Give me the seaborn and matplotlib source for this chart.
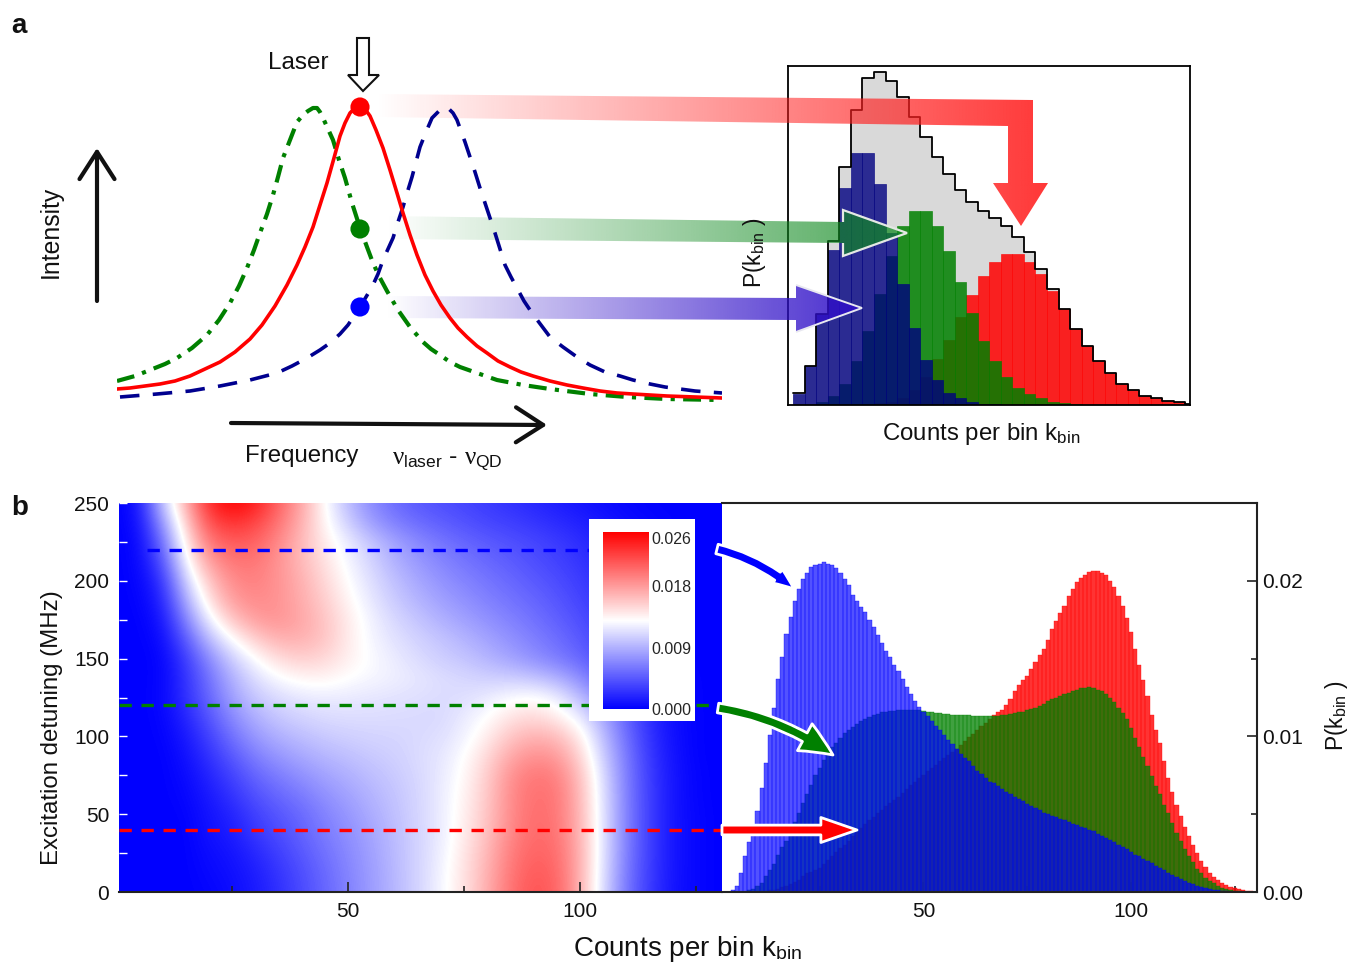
import numpy as np
import seaborn as sns
import matplotlib.pyplot as plt
from matplotlib.colors import LinearSegmentedColormap, to_rgb
from matplotlib.patches import FancyArrowPatch, Polygon

W, H = 1353, 964

# spectra in panel a: frequency offset from the laser, intensity
red_freq = [-243,-230,-215,-200,-185,-170,-155,-140,-125,-110,-98,-85,-73,-63,-55,-47,-40,-33,-26,-20,-15,-10,-5,0,5,10,16,23,30,37,43,50,57,65,73,81,90,98,107,117,127,138,150,161,173,190,207,223,240,257,273,290,307,335,362]
red_int = [11,12,14,16,19,24,31,38,48,61,75,94,115,135,153,173,195,217,242,264,277,287,292,293,291,284,270,252,230,207,187,165,145,125,109,95,82,72,63,54,47,39,33,28,24,19,15,12,9,7,6,5,4,3,2]
green_freq = [-243,-225,-210,-195,-183,-168,-153,-141,-130,-121,-113,-106,-100,-93,-87,-82,-77,-70,-63,-57,-52,-47,-43,-40,-37,-32,-27,-21,-15,-8,0,7,13,20,27,38,50,63,71,80,90,100,117,137,163,190,230,267,307,360]
green_int = [19,24,30,36,42,52,65,80,97,114,132,150,167,186,205,223,242,260,278,285,289,292,292,288,282,271,260,240,222,197,172,153,137,122,109,90,73,58,51,45,38,33,27,20,15,11,6,3,1,0]
blue_freq = [-240,-203,-170,-140,-110,-83,-68,-53,-40,-30,-20,-12,-6,0,6,12,18,23,28,33,38,43,48,52,56,60,66,72,80,87,93,97,101,105,110,115,120,125,130,135,140,145,151,157,164,172,181,190,203,217,230,245,260,273,290,305,335,362]
blue_int = [3,6,9,14,20,27,34,42,50,57,66,75,84,93,103,113,126,140,151,162,178,193,210,223,238,253,268,282,290,293,287,280,269,258,243,228,212,197,182,167,151,135,123,112,99,87,75,63,53,43,35,28,24,20,16,13,9,7]

# histogram in the panel a inset, heights in arbitrary counts
inset_total = [35,118,275,495,720,892,988,1008,980,930,870,810,750,697,650,615,588,565,540,507,464,410,350,290,230,178,132,97,65,45,28,20,13,8,3]
inset_blue = [32,118,275,470,655,762,762,668,520,365,232,135,75,37,20,10,4,2,1,0,0,0,0,0,0,0,0,0,0,0,0,0,0,0,0]
inset_green = [0,0,10,28,65,132,225,335,450,540,587,587,540,465,372,278,195,133,85,52,32,20,10,5,2,0,0,0,0,0,0,0,0,0,0]
inset_red = [0,0,0,0,0,0,2,5,10,20,45,85,140,198,265,332,390,433,457,457,433,395,345,290,230,178,132,97,65,45,28,20,13,8,3]

# panel b map, P(k_bin) x 1000, rows from 0 to 250 MHz, columns every 5 counts
map_rows = [
    [0,0,0,0,.2,.6,1.3,2.4,3.8,5.2,6.6,8,9.3,10.8,12.5,14.5,17.2,20.3,21.8,21,17,11,5.8,2.8,.9,.3,0],
    [0,0,0,0,.4,.8,1.5,2.7,4,5.4,6.8,8,9.4,10.8,12.4,14.5,17,20,21.5,20.8,17,11.2,6,2.9,1,.3,0],
    [0,0,0,0,.6,1,2,3.2,4.5,5.8,7,8.2,9.5,10.8,12.2,14.3,16.7,19.7,21,20.5,17,11.4,6.2,3,1,.3,0],
    [0,0,0,0,.9,1.4,2.8,3.9,5,6.3,7.3,8.4,9.6,10.8,12,14,16.3,19.2,20.7,20.2,16.8,11.4,6.3,3,1,.3,0],
    [0,0,0,.1,1,1.8,3.3,4.4,5.4,6.7,7.7,8.8,9.8,10.9,12,13.8,16,19,20.5,20,16.7,11.4,6.4,3,1,.3,0],
    [0,0,0,.3,1.3,2.6,4.2,5.3,6.3,7.4,8.3,9.2,10,10.9,12,13.6,15.8,19,20.3,20,16.5,11.3,6.3,3,1,.2,0],
    [0,0,0,.5,1.8,3.4,5.2,6.4,7.4,8.3,9,9.7,10.3,11,11.9,13.3,15.6,18.7,20,19.5,16.2,11,6.2,2.9,1,.2,0],
    [0,0,0,.8,2.5,4.5,6.5,7.7,8.6,9.3,9.8,10.3,10.6,11.2,11.7,13,15,17.5,18.7,18.2,15.2,10.3,6,2.7,.9,.1,0],
    [0,0,.1,1.2,3.3,5.8,7.8,9,9.7,10.3,10.6,10.8,10.9,11.1,11.4,12.3,14,16,17,16.5,14,9.5,5.5,2.4,.8,.1,0],
    [0,0,.2,1.8,4.3,7,9,10.2,10.8,11.2,11.3,11.3,11.2,11.1,11,12,13,14.5,15,14,12,8.5,5,2.2,.7,.1,0],
    [0,0,.3,2.4,5.2,8.2,10.2,11.2,11.8,12,11.9,11.7,11.6,11.4,11.2,11.3,12,12.8,13.2,12.2,9.5,7,4.4,2,.6,.1,0],
    [0,0,.2,2.5,5.8,9,11.3,12.8,13.5,13.6,13,12.6,12.2,11.8,11.3,11,10.6,10.5,10,9,7.2,5,3.2,1.6,.5,.1,0],
    [0,0,.2,3,7,10.5,13,14.8,15.5,15,13.8,12.8,12,11.2,10.5,10,9.2,8.3,7.3,6.3,5.2,3.9,2.5,1.3,.4,0,0],
    [0,0,.5,4.5,9.5,13,15.5,17,17,16,14,12.5,11.5,10.7,10,9.2,8.3,7.4,6.5,5.6,4.5,3.4,2.2,1.1,.4,0,0],
    [0,0,1,6.5,12.2,16,18,18.5,17.5,16,14,12.3,11,10,9,8.2,7.4,6.6,5.8,4.9,4,3,2,1,.35,0,0],
    [0,.1,1.7,8.5,14.5,18,19,18.5,17.2,15.5,13.5,11.8,10.3,9.2,8.2,7.4,6.6,5.9,5.2,4.4,3.5,2.6,1.7,.9,.3,0,0],
    [0,.2,2.5,10.5,16,19,19.5,18.5,17,15,13,11.3,9.8,8.5,7.5,6.7,6,5.3,4.6,3.9,3.1,2.3,1.4,.7,.25,0,0],
    [0,.3,4,12.5,18,20,20,18.5,16.5,14.5,12.5,10.8,9,7.8,6.8,6,5.3,4.7,4,3.4,2.7,1.9,1.2,.6,.2,0,0],
    [0,.4,5.5,14,20,21.5,21,19,16.5,14,12,10,8.3,7,6,5.2,4.6,4.1,3.6,3,2.3,1.6,1,.5,.15,0,0],
    [0,.7,7.5,15.5,22,23.5,22.5,20,17,13.4,10.5,8,6.5,5.5,4.8,4.2,3.6,3.2,2.7,2.2,1.7,1.1,.6,.3,.1,0,0],
    [0,1,10,17,24,26,24.5,21,17.5,13,9.5,7,5.5,4.5,4,3.5,3,2.5,2,1.5,1,.6,.3,.1,0,0,0],
]

# panel b histograms, P(k_bin) x 1000 for counts 2 to 130
hist_counts = np.arange(2, 131)
hist_blue = [0,0,.1,.4,1.2,2.3,3.2,4.1,5.2,6.7,8.3,10.1,11.8,13.7,15.1,16.6,17.7,18.7,19.5,20.1,20.5,20.9,21,21.1,21.2,21.1,21,20.8,20.5,20.1,19.7,19.1,18.7,18.3,18,17.5,17,16.5,16,15.5,15.1,14.6,14.2,13.7,13.2,12.7,12.3,11.9,11.6,11.3,11,10.7,10.4,10.1,9.8,9.5,9.2,8.9,8.6,8.4,8.1,7.8,7.6,7.35,7.1,7,6.8,6.6,6.4,6.3,6.1,6,5.85,5.65,5.5,5.4,5.25,5.1,5,4.9,4.8,4.7,4.6,4.5,4.4,4.3,4.2,4.1,4,3.9,3.75,3.6,3.5,3.35,3.2,3,2.9,2.75,2.6,2.4,2.3,2.15,2,1.85,1.7,1.55,1.4,1.25,1.1,.95,.82,.7,.6,.5,.4,.33,.26,.2,.15,.11,.08,.05,.03,.02,.01,0,0,0,0]
hist_green = [0,0,0,0,0,0,.1,.2,.4,.6,1,1.4,1.8,2.4,2.9,3.3,3.9,4.5,5.1,5.7,6.3,6.9,7.5,8,8.5,8.9,9.3,9.6,9.9,10.2,10.4,10.6,10.8,11,11.1,11.25,11.35,11.45,11.55,11.6,11.65,11.65,11.7,11.7,11.7,11.7,11.7,11.7,11.65,11.6,11.55,11.5,11.5,11.45,11.45,11.4,11.4,11.4,11.35,11.35,11.3,11.3,11.3,11.3,11.3,11.28,11.3,11.35,11.38,11.45,11.5,11.55,11.6,11.68,11.75,11.85,11.95,12.1,12.25,12.4,12.5,12.6,12.7,12.8,12.9,13,13.1,13.13,13.15,13.1,13,12.9,12.7,12.5,12.2,11.85,11.5,11.1,10.55,9.9,9.3,8.65,8.1,7.45,6.8,6.3,5.6,5.1,4.45,3.8,3.3,2.75,2.3,1.9,1.5,1.2,.9,.7,.55,.4,.28,.2,.13,.08,.05,.03,.02,.01,0]
hist_red = [0,0,0,0,0,0,0,0,0,.05,.05,.1,.1,.2,.3,.4,.5,.65,.8,1,1.2,1.3,1.4,1.55,1.8,2.05,2.3,2.55,2.8,3.05,3.3,3.6,3.85,4.1,4.35,4.6,4.8,5.05,5.3,5.5,5.7,5.9,6.1,6.35,6.6,6.85,7.05,7.3,7.5,7.75,7.95,8.15,8.4,8.6,8.8,9,9.2,9.45,9.7,9.95,10.15,10.4,10.65,10.85,11.1,11.35,11.6,11.7,12,12.4,12.9,13.3,13.6,13.9,14.3,14.8,15.2,15.6,16.2,16.9,17.4,17.9,18.4,19,19.5,19.9,20.2,20.4,20.55,20.6,20.6,20.5,20.35,20,19.6,19,18.4,17.6,16.7,15.6,14.6,13.6,12.6,11.4,10.4,9.6,8.4,7.3,6.4,5.6,4.9,4.2,3.6,3,2.5,2,1.6,1.25,.95,.75,.6,.45,.35,.25,.18,.12,.08,.05,.02]

# detuning of the three cuts through the map
cut_detuning = [220, 120, 40]
cut_colors = ['#0000ff', '#008000', '#ff0000']
colorbar_ticks = [0.000, 0.009, 0.018, 0.026]

sns.set_theme(style='white')
plt.rcParams['font.family'] = ['Liberation Sans', 'DejaVu Sans']
plt.rcParams['mathtext.fontset'] = 'custom'
plt.rcParams['mathtext.rm'] = 'Liberation Sans'
plt.rcParams['mathtext.it'] = 'Liberation Serif'

fig = plt.figure(figsize=(W / 100, H / 100), dpi=100)


def px_axes(x0, y0, x1, y1, **kwargs):
    # axes from a box given in image pixels, y going down
    return fig.add_axes([x0 / W, 1 - y1 / H, (x1 - x0) / W, (y1 - y0) / H], **kwargs)


# panel a, spectra
ax_lines = px_axes(117, 90, 722, 410, zorder=5, facecolor='none')
sns.lineplot(x=green_freq, y=green_int, color='#008000', linewidth=3, sort=False,
             linestyle=(0, (4.3, 2, 1, 2)), ax=ax_lines)
sns.lineplot(x=blue_freq, y=blue_int, color='#00008f', linewidth=2.6, sort=False,
             linestyle=(0, (5.4, 3.7)), ax=ax_lines)
sns.lineplot(x=red_freq, y=red_int, color='#ff0000', linewidth=2.6, sort=False, ax=ax_lines)
sns.scatterplot(x=[0, 0, 0], y=[293, 171, 93], hue=['r', 'g', 'b'],
                palette={'r': '#ff0000', 'g': '#008000', 'b': '#0000ff'},
                s=190, linewidth=0, legend=False, ax=ax_lines, zorder=6)
ax_lines.set(xlim=(-243, 362), ylim=(-10, 310), xlabel='', ylabel='')
ax_lines.axis('off')

# panel a, histogram inset
ax_inset = px_axes(788, 66, 1190, 405)
edges = list(range(36))
centers = np.arange(35) + 0.5
sns.histplot(x=centers, weights=inset_total, bins=edges, element='step', color='#d9d9d9',
             alpha=1, linewidth=0, ax=ax_inset)
for vals, col, alpha in [(inset_red, '#ff0000', .85), (inset_green, '#008000', .85), (inset_blue, '#000080', .8)]:
    sns.histplot(x=centers, weights=vals, bins=edges, color=col, alpha=alpha,
                 edgecolor=col, linewidth=.4, ax=ax_inset)
sns.histplot(x=centers, weights=inset_total, bins=edges, element='step', fill=False,
             color='black', linewidth=1.3, ax=ax_inset)
ax_inset.set(xlim=(-.46, 34.4), ylim=(0, 1025), xlabel='', ylabel='', xticks=[], yticks=[])
for s in ax_inset.spines.values():
    s.set_visible(True)
    s.set_color('black')
    s.set_linewidth(1.3)

# panel b, map
cmap = LinearSegmentedColormap.from_list('bwr_map', ['#0000ff', '#ffffff', '#ff0000'], N=256)
ax_map = px_axes(119, 503, 722, 892)
im = ax_map.imshow(np.array(map_rows) * 1e-3, origin='lower', aspect='auto', cmap=cmap, vmin=0, vmax=.026,
                   interpolation='bicubic', extent=(-2.5, 132.5, -6.25, 256.25))
ends = [(6.7, 102), (.65, 102), (.65, 130.6)]
for y, col, (x0, x1) in zip(cut_detuning, cut_colors, ends):
    sns.lineplot(x=[x0, x1], y=[y, y], color=col, linewidth=2.4, linestyle=(0, (3.7, 2.9)), ax=ax_map)
sns.lineplot(x=[125, 130.6], y=[120, 120], color='#008000', linewidth=2.4, linestyle=(0, (3.7, 2.9)), ax=ax_map)
ax_map.set_xlim(.65, 130.6)
ax_map.set_ylim(0, 250)
ax_map.set_xticks([50, 100])
ax_map.set_xticks([25, 75, 125], minor=True)
ax_map.set_yticks(range(0, 251, 50))
ax_map.set_yticks(range(25, 250, 50), minor=True)
ax_map.set_xlabel('')
ax_map.set_ylabel('')
ax_map.tick_params(axis='both', labelsize=15, labelcolor='#111111')
ax_map.tick_params(axis='x', which='major', direction='in', length=7, width=1.2, color='#222222', bottom=True, pad=7)
ax_map.tick_params(axis='x', which='minor', direction='in', length=4, width=1.2, color='#222222', bottom=True)
ax_map.tick_params(axis='y', which='both', direction='in', length=6, width=1, color='white', left=True, pad=7)
for name, s in ax_map.spines.items():
    s.set_visible(name == 'bottom')
    s.set_color('#222222')
    s.set_linewidth(1.5)

# colour bar on its white box
box = px_axes(589, 519, 695, 721, zorder=2, facecolor='white')
box.set_xticks([])
box.set_yticks([])
for s in box.spines.values():
    s.set_visible(False)
cax = px_axes(603, 532, 649, 709, zorder=3)
cbar = fig.colorbar(im, cax=cax, ticks=colorbar_ticks, format='%.3f')
cbar.outline.set_visible(False)
cax.tick_params(length=0, labelsize=11.5, pad=2)
labels = cax.get_yticklabels()
labels[-1].set_va('top')

# panel b, histograms
ax_hist = px_axes(722, 503, 1257, 892)
bin_edges = [c + .5 for c in range(1, 131)]
for vals, col, alpha in [(hist_red, '#ff0000', .8), (hist_green, '#008000', .75), (hist_blue, '#0000ff', .68)]:
    sns.histplot(x=hist_counts, weights=np.array(vals) * 1e-3, bins=bin_edges, color=col, alpha=alpha,
                 edgecolor=col, linewidth=.25, ax=ax_hist)
ax_hist.set_xlim(1.45, 130.4)
ax_hist.set_ylim(0, .025)
ax_hist.set_xticks([50, 100])
ax_hist.set_xticks([25, 75, 125], minor=True)
ax_hist.set_yticks([0, .01, .02], ['0.00', '0.01', '0.02'])
ax_hist.set_yticks([.005, .015], minor=True)
ax_hist.set_xlabel('')
ax_hist.set_ylabel('')
ax_hist.yaxis.tick_right()
ax_hist.tick_params(axis='both', labelsize=15, labelcolor='#111111')
ax_hist.tick_params(axis='x', which='major', direction='in', length=7, width=1.2, color='#222222', bottom=True, pad=7)
ax_hist.tick_params(axis='x', which='minor', direction='in', length=4, width=1.2, color='#222222', bottom=True)
ax_hist.tick_params(axis='y', which='major', direction='in', length=7, width=1.2, color='#222222', right=True, pad=4)
ax_hist.tick_params(axis='y', which='minor', direction='in', length=4, width=1.2, color='#222222', right=True)
for name, s in ax_hist.spines.items():
    s.set_visible(name != 'left')
    s.set_color('#222222')
    s.set_linewidth(1.5)

# overlay in image pixels for the arrows and free text
ov = fig.add_axes([0, 0, 1, 1], zorder=4, facecolor='none')
ov.set_axis_off()


def gradient_arrow(points, color, x0, x1, alpha1):
    # polygon filled with a colour that fades in from x0 to x1
    patch = Polygon(points, closed=True, fc='none', ec='none', transform=ov.transData)
    ov.add_patch(patch)
    rgba = np.zeros((1, 256, 4))
    rgba[..., :3] = to_rgb(color)
    rgba[..., 3] = np.linspace(0, alpha1, 256)
    y = [p[1] for p in points]
    img = ov.imshow(rgba, extent=(x0, x1, max(y), min(y)), aspect='auto', interpolation='bilinear', zorder=2)
    img.set_clip_path(patch)


ov.set_xlim(0, W)
ov.set_ylim(H, 0)
gradient_arrow([(375, 94), (1033, 100), (1033, 183), (1048, 183), (1021, 226), (993, 183), (1008, 183),
                (1008, 126), (375, 117)], '#ff2020', 375, 1050, .9)
gradient_arrow([(385, 216), (843, 222), (843, 210), (907, 233), (843, 256), (843, 243), (385, 239)],
               '#108a20', 385, 907, .75)
gradient_arrow([(385, 296), (796, 298), (796, 285), (862, 308), (796, 332), (796, 320), (385, 318)],
               '#3010c8', 385, 862, .88)
ov.add_patch(Polygon([(843, 222), (843, 210), (907, 233), (843, 256), (843, 243)], closed=False,
                     fc='none', ec='#e4e8e4', lw=1.6, zorder=3))
ov.add_patch(Polygon([(796, 285), (862, 308), (796, 332)], closed=False, fc='none', ec='#e8e8f0', lw=1.4, zorder=3))

# laser arrow and the two black axis arrows
ov.add_patch(Polygon([(357, 38), (369, 38), (369, 75), (379, 75), (363, 91), (348, 75), (357, 75)], closed=True,
                     fc='white', ec='#111111', lw=1.5, zorder=3))
ov.add_patch(FancyArrowPatch((97, 301), (97, 148), arrowstyle='->,head_width=9,head_length=14', lw=3,
                             color='#111111', mutation_scale=1.4, shrinkA=0, shrinkB=0, zorder=3))
ov.add_patch(FancyArrowPatch((231, 423), (547, 425), arrowstyle='->,head_width=9,head_length=14', lw=3,
                             color='#111111', mutation_scale=1.4, shrinkA=0, shrinkB=0, zorder=3))

# curved arrows pointing at the histograms
ov.add_patch(FancyArrowPatch((717, 549), (794, 589), connectionstyle='arc3,rad=-.12',
                             arrowstyle='simple,tail_width=7,head_width=12,head_length=15',
                             mutation_scale=1, fc='#0000ff', ec='white', lw=2, shrinkA=0, shrinkB=0, zorder=3))
ov.add_patch(FancyArrowPatch((718, 708), (833, 755), connectionstyle='arc3,rad=-.12',
                             arrowstyle='simple,tail_width=7,head_width=22,head_length=24',
                             mutation_scale=1, fc='#008000', ec='white', lw=2, shrinkA=0, shrinkB=0, zorder=3))
ov.add_patch(FancyArrowPatch((722, 830), (857, 830),
                             arrowstyle='simple,tail_width=7,head_width=18,head_length=26',
                             mutation_scale=1, fc='#ff0000', ec='white', lw=2, shrinkA=0, shrinkB=0, zorder=3))

# keep the overlay in pixels after the imshow calls
ov.set_xlim(0, W)
ov.set_ylim(H, 0)

k_bin = r'k$_{\mathrm{bin}}$'
tc = '#111111'
ov.text(11, 26, 'a', fontsize=20, fontweight='bold', va='center', color=tc)
ov.text(11, 508, 'b', fontsize=20, fontweight='bold', va='center', color=tc)
ov.text(298, 63, 'Laser', fontsize=17.5, ha='center', va='center', color=tc)
ov.text(51, 232, 'Intensity', fontsize=17.8, rotation=90, ha='center', va='center', color=tc)
ov.text(302, 456, 'Frequency', fontsize=17.3, ha='center', va='center', color=tc)
ov.text(447, 461, r'$\nu_{\mathrm{laser}}$ - $\nu_{\mathrm{QD}}$', fontsize=18, ha='center', va='center', color=tc)
ov.text(755, 253, 'P(' + k_bin + ' )', fontsize=16.5, rotation=90, ha='center', va='center', color=tc)
ov.text(981, 434, 'Counts per bin ' + k_bin, fontsize=17.3, ha='center', va='center', color=tc)
ov.text(52, 728, 'Excitation detuning (MHz)', fontsize=17.3, rotation=90, ha='center', va='center', color=tc)
ov.text(688, 949, 'Counts per bin ' + k_bin, fontsize=20, ha='center', va='center', color=tc)
ov.text(1337, 716, 'P(' + k_bin + ' )', fontsize=16.5, rotation=90, ha='center', va='center', color=tc)

fig.savefig('out.png', dpi=100)
